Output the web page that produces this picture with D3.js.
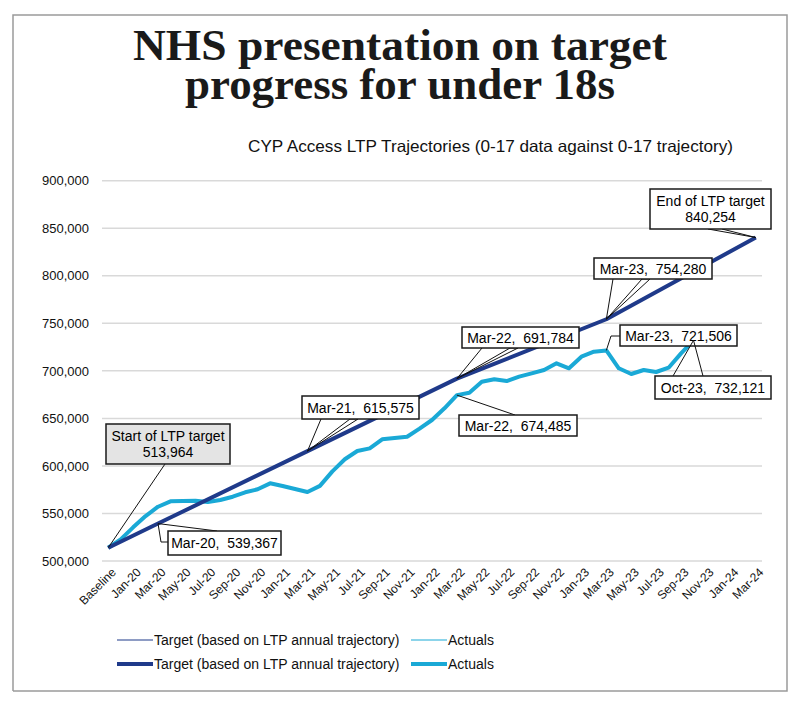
<!DOCTYPE html>
<html>
<head>
<meta charset="utf-8">
<script src="https://cdn.jsdelivr.net/npm/d3@7"></script>
<style>
	body { margin: 0; background: #fff; }
	svg { display: block; }
	.axis text { font-family: "Liberation Sans", Arial, sans-serif; fill: #111; }
	.callout text { font-family: "Liberation Sans", Arial, sans-serif; font-size: 14px; fill: #000; white-space: pre; }
</style>
</head>
<body>
<svg id="chart" width="800" height="705"></svg>
<script>
	"use strict";

	// category axis: baseline, then monthly Dec-19 .. Mar-24
	var categories = ["Baseline", "Dec-19",
		"Jan-20", "Feb-20", "Mar-20", "Apr-20", "May-20", "Jun-20", "Jul-20", "Aug-20", "Sep-20", "Oct-20", "Nov-20", "Dec-20",
		"Jan-21", "Feb-21", "Mar-21", "Apr-21", "May-21", "Jun-21", "Jul-21", "Aug-21", "Sep-21", "Oct-21", "Nov-21", "Dec-21",
		"Jan-22", "Feb-22", "Mar-22", "Apr-22", "May-22", "Jun-22", "Jul-22", "Aug-22", "Sep-22", "Oct-22", "Nov-22", "Dec-22",
		"Jan-23", "Feb-23", "Mar-23", "Apr-23", "May-23", "Jun-23", "Jul-23", "Aug-23", "Sep-23", "Oct-23", "Nov-23", "Dec-23",
		"Jan-24", "Feb-24", "Mar-24"];

	var xTickLabels = ["Baseline", "Jan-20", "Mar-20", "May-20", "Jul-20", "Sep-20", "Nov-20",
		"Jan-21", "Mar-21", "May-21", "Jul-21", "Sep-21", "Nov-21",
		"Jan-22", "Mar-22", "May-22", "Jul-22", "Sep-22", "Nov-22",
		"Jan-23", "Mar-23", "May-23", "Jul-23", "Sep-23", "Nov-23",
		"Jan-24", "Mar-24"];

	var yTicks = [500000, 550000, 600000, 650000, 700000, 750000, 800000, 850000, 900000];

	// LTP annual trajectory (target)
	var targetCats = ["Baseline", "Mar-20", "Mar-21", "Mar-22", "Mar-23", "Mar-24"];
	var targetValues = [513964, 539367, 615575, 691784, 754280, 840254];

	// actuals, Baseline .. Oct-23
	var actualValues = [513964, 522800, 535400, 547300, 557100, 562800, 563100, 563400, 562000, 564200,
		567600, 572300, 575400, 581700, 578900, 575700, 572600, 579000, 594300, 607000,
		615700, 618500, 628000, 629400, 630700, 639200, 648300, 660600, 674485, 677000,
		688500, 691100, 689300, 693900, 697400, 700900, 707900, 702700, 714900, 720200,
		721506, 702700, 696700, 700900, 698800, 703300, 718400, 732121];

	var sNavy = "#1f3a8a",
		sCyan = "#1aa9d6";

	var oSVG = d3.select("#chart");

	// outer frame
	oSVG.append("path")
		.attr("d", "M13,691 V15 H787 V691 H13")
		.attr("fill", "none")
		.attr("stroke", "#9a9a9a")
		.attr("stroke-width", 1.5);

	// title
	var aTitle = [
		{ text: "NHS presentation on target", y: 60, len: 534 },
		{ text: "progress for under 18s", y: 99, len: 430 }
	];
	oSVG.selectAll("text.title").data(aTitle).enter().append("text")
		.attr("class", "title")
		.attr("x", 400)
		.attr("y", function(d) { return d.y; })
		.attr("text-anchor", "middle")
		.attr("textLength", function(d) { return d.len; })
		.attr("lengthAdjust", "spacingAndGlyphs")
		.style("font-family", "'Liberation Serif', 'Times New Roman', serif")
		.style("font-weight", "bold")
		.style("font-size", "45px")
		.style("fill", "#1a1a1a")
		.text(function(d) { return d.text; });

	oSVG.append("text")
		.attr("x", 248)
		.attr("y", 152)
		.attr("textLength", 485)
		.attr("lengthAdjust", "spacingAndGlyphs")
		.style("font-family", "'Liberation Sans', Arial, sans-serif")
		.style("font-size", "16.5px")
		.style("fill", "#111")
		.text("CYP Access LTP Trajectories (0-17 data against 0-17 trajectory)");

	// scales
	var x = d3.scalePoint()
		.domain(categories)
		.range([102, 762])
		.padding(0.5);

	var y = d3.scaleLinear()
		.domain([500000, 900000])
		.range([561, 180.7]);

	// gridlines
	oSVG.append("g")
		.selectAll("line")
		.data(yTicks)
		.enter().append("line")
		.attr("x1", 102)
		.attr("x2", 762)
		.attr("y1", function(d) { return y(d); })
		.attr("y2", function(d) { return y(d); })
		.attr("stroke", "#d9d9d9")
		.attr("stroke-width", 1.5);

	// y axis
	var gY = oSVG.append("g")
		.attr("class", "axis")
		.attr("transform", "translate(102,0)")
		.call(d3.axisLeft(y).tickValues(yTicks).tickSize(0).tickPadding(13).tickFormat(d3.format(",")));
	gY.select(".domain").remove();
	gY.selectAll("text").style("font-size", "13px");

	// x axis
	var gX = oSVG.append("g")
		.attr("class", "axis")
		.attr("transform", "translate(0,561)")
		.call(d3.axisBottom(x).tickValues(xTickLabels).tickSize(0));
	gX.select(".domain").remove();
	gX.selectAll("text")
		.attr("x", 0)
		.attr("y", 0)
		.attr("dy", "0.35em")
		.attr("text-anchor", "end")
		.attr("transform", "translate(5,9) rotate(-45)")
		.style("font-size", "12px");

	// series
	var lineTarget = d3.line()
		.x(function(d, i) { return x(targetCats[i]); })
		.y(function(d) { return y(d); });

	var lineActual = d3.line()
		.x(function(d, i) { return x(categories[i]); })
		.y(function(d) { return y(d); });

	oSVG.append("path")
		.datum(actualValues)
		.attr("d", lineActual)
		.attr("fill", "none")
		.attr("stroke", sCyan)
		.attr("stroke-width", 4)
		.attr("stroke-linejoin", "round");

	oSVG.append("path")
		.datum(targetValues)
		.attr("d", lineTarget)
		.attr("fill", "none")
		.attr("stroke", sNavy)
		.attr("stroke-width", 4)
		.attr("stroke-linejoin", "round");

	// data callouts; leader uses "A" for the anchor point on the series
	var aCallouts = [
		{ cat: "Baseline", val: 513964, box: [106, 424, 124, 40], fill: "#e4e4e4",
			lines: ["Start of LTP target", "513,964"], leader: [[165, 464], "A"] },
		{ cat: "Mar-20", val: 539367, box: [168, 531, 113, 24], fill: "#fff",
			lines: ["Mar-20,  539,367"], leader: [[168, 542], [161, 542], "A", [217, 531]] },
		{ cat: "Mar-21", val: 615575, box: [302, 396, 117, 23], fill: "#fff",
			lines: ["Mar-21,  615,575"], leader: [[321, 419], "A", [358, 419], [350, 419], "A"] },
		{ cat: "Mar-22", val: 691784, box: [462, 327, 117, 21], fill: "#fff",
			lines: ["Mar-22,  691,784"], leader: [[482, 348], "A", [518, 348], [510, 348], "A"] },
		{ cat: "Mar-23", val: 754280, box: [594, 258, 118, 21], fill: "#fff",
			lines: ["Mar-23,  754,280"], leader: [[613, 279], "A", [650, 279], [642, 279], "A"] },
		{ cat: "Mar-24", val: 840254, box: [650, 189, 121, 40], fill: "#fff",
			lines: ["End of LTP target", "840,254"], leader: [[708, 229], "A", [722, 229]] },
		{ cat: "Mar-22", val: 674485, box: [459, 415, 118, 21], fill: "#fff",
			lines: ["Mar-22,  674,485"], leader: ["A", [515, 415]] },
		{ cat: "Mar-23", val: 721506, box: [620, 325, 117, 21], fill: "#fff",
			lines: ["Mar-23,  721,506"], leader: ["A", [611, 336], [620, 336]] },
		{ cat: "Oct-23", val: 732121, box: [655, 376, 116, 23], fill: "#fff",
			lines: ["Oct-23,  732,121"], leader: [[673, 376], "A", [703, 376]] }
	];

	var gCallouts = oSVG.append("g").attr("class", "callout");

	aCallouts.forEach(function(c) {
		var aPt = [x(c.cat), y(c.val)];
		var aPts = c.leader.map(function(p) { return p === "A" ? aPt : p; });
		gCallouts.append("path")
			.attr("d", d3.line()(aPts))
			.attr("fill", "none")
			.attr("stroke", "#111")
			.attr("stroke-width", 1);

		gCallouts.append("rect")
			.attr("x", c.box[0])
			.attr("y", c.box[1])
			.attr("width", c.box[2])
			.attr("height", c.box[3])
			.attr("fill", c.fill)
			.attr("stroke", "#1a1a1a")
			.attr("stroke-width", 1.5);

		var iTop = c.box[1] + c.box[3] / 2 - (c.lines.length - 1) * 8;
		c.lines.forEach(function(s, i) {
			gCallouts.append("text")
				.attr("x", c.box[0] + c.box[2] / 2)
				.attr("y", iTop + i * 16)
				.attr("dy", "0.36em")
				.attr("text-anchor", "middle")
				.text(s);
		});
	});

	// legend (two rows, thin and thick keys)
	var aLegend = [
		{ label: "Target (based on LTP annual trajectory)", color: sNavy, x: 117, w: 1.2, row: 640 },
		{ label: "Actuals", color: sCyan, x: 411, w: 1.2, row: 640 },
		{ label: "Target (based on LTP annual trajectory)", color: sNavy, x: 117, w: 4, row: 664 },
		{ label: "Actuals", color: sCyan, x: 411, w: 4, row: 664 }
	];

	var gLegend = oSVG.selectAll("g.legend").data(aLegend).enter().append("g")
		.attr("class", "legend")
		.attr("transform", function(d) { return "translate(" + d.x + "," + d.row + ")"; });

	gLegend.append("line")
		.attr("x1", 0)
		.attr("x2", 36)
		.attr("stroke", function(d) { return d.color; })
		.attr("stroke-width", function(d) { return d.w; });

	gLegend.append("text")
		.attr("x", 37)
		.attr("dy", "0.35em")
		.style("font-family", "'Liberation Sans', Arial, sans-serif")
		.style("font-size", "14px")
		.style("fill", "#111")
		.text(function(d) { return d.label; });
</script>
</body>
</html>
